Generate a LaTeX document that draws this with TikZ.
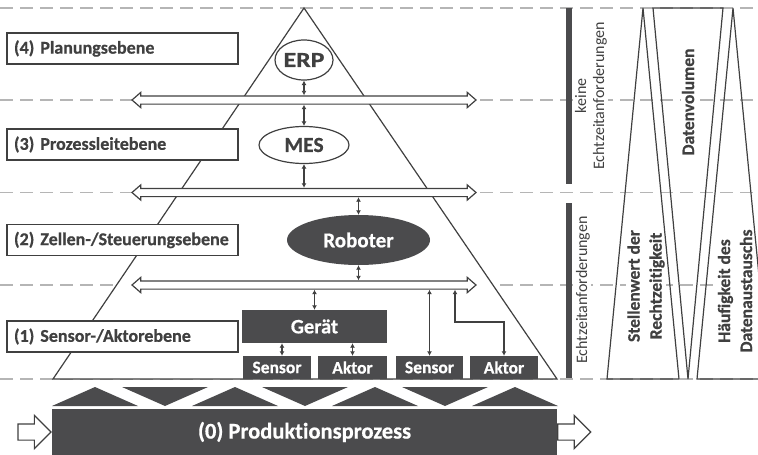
\documentclass[tikz,border=0pt]{standalone}
\usepackage{fontspec}
\setmainfont{Carlito}[Ligatures=NoCommon, BoldFeatures={FakeBold=0.6}]
\usetikzlibrary{shapes.geometric,shapes.arrows,arrows.meta,calc}
\definecolor{ink}{HTML}{404040}
\definecolor{slab}{HTML}{4B4B4D}
\definecolor{guide}{HTML}{B5B5B5}

\begin{document}
\begin{tikzpicture}[x=1pt,y=-1pt,
  every node/.style={font=\fontsize{18}{22}\selectfont\bfseries, text=ink},
  guideline/.style={draw=guide, line width=1.3pt, dash pattern=on 13pt off 7pt},
  outline/.style={draw=ink, line width=1.2pt},
  levelbox/.style={outline, fill=white, minimum height=31pt, text width=217pt,
    inner xsep=7pt, inner ysep=0pt, align=left},
  oval/.style={ellipse, outline, fill=white, inner sep=0pt,
    font=\fontsize{21.5}{24}\selectfont\bfseries},
  darkbox/.style={fill=slab, text=white, inner sep=0pt},
  bus/.style={double arrow, outline, fill=white, minimum height=344pt,
    inner xsep=0pt, inner ysep=3.5pt, double arrow head extend=3.5pt,
    double arrow tip angle=82},
  link/.style={draw=ink, line width=1.1pt,
    {Latex[length=4.5pt,width=5pt]}-{Latex[length=4.5pt,width=5pt]}},
  flow/.style={single arrow, outline, fill=white, minimum height=33pt,
    inner xsep=0pt, inner ysep=7.5pt, single arrow head extend=8.5pt,
    single arrow tip angle=90},
  sidenote/.style={rotate=90, fill=white, inner sep=1pt, align=center,
    font=\fontsize{16}{18}\selectfont, text=ink},
  sidehead/.style={rotate=90, fill=white, inner sep=1pt, align=center,
    font=\fontsize{17.5}{22}\selectfont\bfseries, text=ink}
]
\useasboundingbox (0,0) rectangle (758,455);

% level separators
\foreach \y in {8,100,192.5,285,379}
  \draw[guideline] (0,\y) -- (758,\y);

% automation pyramid
\coordinate (apex) at (304,8);
\coordinate (baseL) at (53,379);
\coordinate (baseR) at (557,379);
\draw[outline, fill=white] (apex) -- (baseL) -- (baseR) -- cycle;

% level labels
\node[levelbox] (l4) at (122.5,48.5) {\mbox{(4) Planungsebene}};
\node[levelbox] (l3) at (122.5,144.5) {\mbox{(3) Prozessleitebene}};
\node[levelbox] (l2) at (122.5,240) {\mbox{(2) Zellen-/Steuerungsebene}};
\node[levelbox] (l1) at (122.5,336.5) {\mbox{(1) Sensor-/Aktorebene}};

% communication buses
\node[bus] (bus1) at (304,100) {};
\node[bus] (bus2) at (304,192.5) {};
\node[bus] (bus3) at (304,285) {};

% systems
\node[oval, minimum width=58pt, minimum height=40pt] (erp) at (304,60) {\scalebox{1.2}[1]{ERP}};
\node[oval, minimum width=90pt, minimum height=37pt] (mes) at (304,145) {MES};
\node[ellipse, darkbox, minimum width=143pt, minimum height=50pt,
  font=\fontsize{21}{24}\selectfont\bfseries] (robot) at (358.5,240) {Roboter};
\node[darkbox, minimum width=145pt, minimum height=33pt,
  font=\fontsize{20.5}{24}\selectfont\bfseries] (geraet) at (314.5,326.5) {Gerät};
\tikzset{fieldbox/.style={darkbox, minimum height=23pt,
  font=\fontsize{17.5}{20}\selectfont\bfseries}}
\node[fieldbox, minimum width=68pt] (sensor1) at (277,367.5) {Sensor};
\node[fieldbox, minimum width=69pt] (aktor1) at (352.5,367.5) {Aktor};
\node[fieldbox, minimum width=67pt] (sensor2) at (429.5,367.5) {Sensor};
\node[fieldbox, minimum width=68pt] (aktor2) at (504,367.5) {Aktor};

% vertical links
\draw[link] (erp.south) -- (erp.south |- bus1.90);
\draw[link] (mes.north) -- (mes.north |- bus1.270);
\draw[link] (mes.south) -- (mes.south |- bus2.90);
\draw[link] (robot.north) -- (robot.north |- bus2.270);
\draw[link] (robot.south) -- (robot.south |- bus3.90);
\draw[link] (geraet.north) -- (geraet.north |- bus3.270);
\draw[link] ([xshift=5pt]sensor1.north) -- ([xshift=5pt]sensor1.north |- geraet.south);
\draw[link] (aktor1.north) -- (aktor1.north |- geraet.south);
\draw[link] (sensor2.north) -- (sensor2.north |- bus3.270);
\coordinate (tap) at (455,322);
\draw[link] (tap |- bus3.270) -- (tap) -| (aktor2.north);

% process interface zigzag
\foreach \k in {0,...,3}
  \fill[slab] (52+140*\k,406) -- (95+140*\k,387) -- (138+140*\k,406) -- cycle;
\foreach \k in {0,1,2}
  \fill[slab] (122+140*\k,387) -- (208+140*\k,387) -- (165+140*\k,406) -- cycle;

% production process
\node[darkbox, minimum width=505pt, minimum height=46pt,
  font=\fontsize{22.5}{26}\selectfont\bfseries] (prod) at (304.5,432) {(0) Produktionsprozess};
\node[flow, anchor=tip] (inflow) at (prod.west) {};
\node[flow, anchor=tail] (outflow) at (prod.east) {};

% real-time requirement bars
\fill[slab] (566,8) rectangle (572,184);
\fill[slab] (566,203) rectangle (572,378);
\node[sidenote] (rt1) at (591,96) {keine\\Echtzeitanforderungen};
\node[sidenote] (rt2) at (583,290) {Echtzeitanforderungen};

% trend wedges
\node[sidehead] (dv) at (688,102) {Datenvolumen};
\node[sidehead] (sr) at (646,286) {Stellenwert der\\Rechtzeitigkeit};
\node[sidehead] (hd) at (735,291) {Häufigkeit des\\Datenaustauschs};
\draw[outline] (643,8) -- (607,379) -- (679,379) -- cycle;
\draw[outline] (653,8) -- (723,8) -- (688,379) -- cycle;
\draw[outline] (733,8) -- (697,379) -- (769,379) -- cycle;
\end{tikzpicture}
\end{document}
